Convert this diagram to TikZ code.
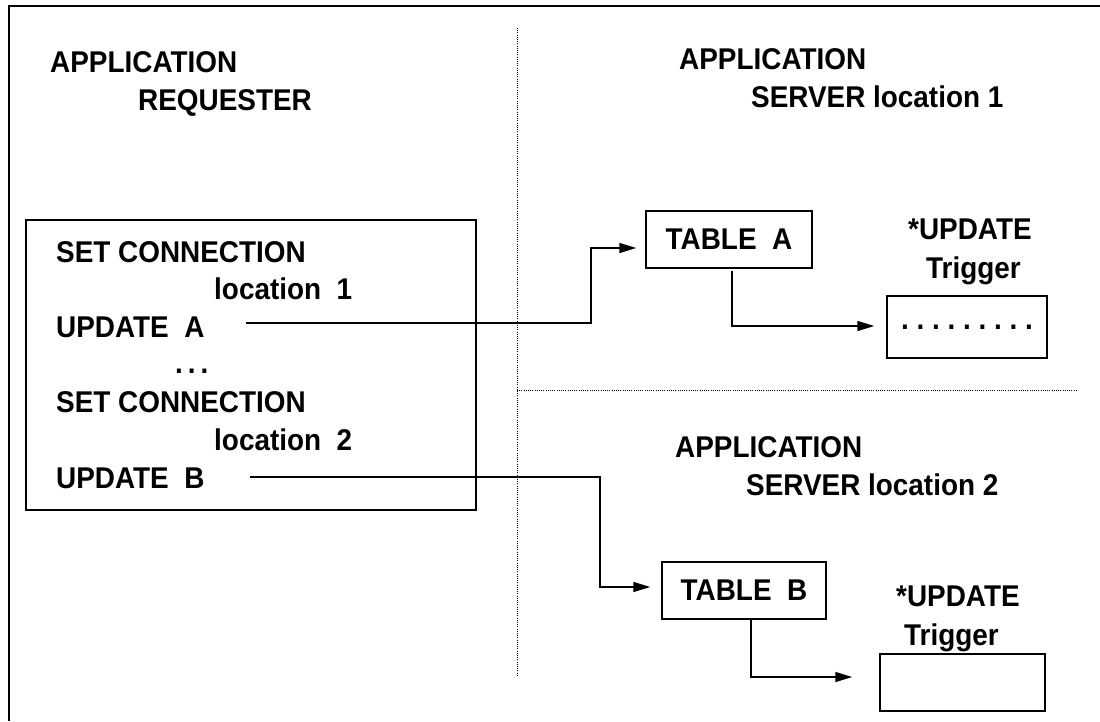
\documentclass[tikz,border=0pt]{standalone}
\usepackage{fontspec}
\setmainfont{Liberation Sans}[FakeStretch=0.93]
\usetikzlibrary{arrows.meta,calc}
\begin{document}
\begin{tikzpicture}[x=1pt,y=-1pt,
  font=\fontsize{30}{34}\selectfont\bfseries,
  lbl/.style={anchor=base west, inner sep=0pt},
  boxnode/.style={draw, line width=1.5pt, rectangle, inner sep=0pt},
  conn/.style={line width=1.5pt, -{Triangle[length=17pt,width=10pt]}},
  sepline/.style={line width=1pt, dash pattern=on 1pt off 1.2pt}]
\useasboundingbox (0,0) rectangle (1100,721);
% frame
\draw[line width=2pt] (9,721) -- (9,6) -- (1100,6);
% separators
\draw[sepline] (517,28) -- (517,676);
\draw[sepline] (517,390) -- (1078,390);
% headings
\node[lbl] (h1a) at (50,72) {APPLICATION};
\node[lbl] (h1b) at (138,110) {REQUESTER};
\node[lbl] (h2a) at (679,69) {APPLICATION};
\node[lbl] (h2b) at (751,107) {SERVER location 1};
\node[lbl] (h3a) at (675,457) {APPLICATION};
\node[lbl] (h3b) at (746,495) {SERVER location 2};
% requester box
\node[boxnode, minimum width=450pt, minimum height=290pt] (req) at (251,365) {};
\node[lbl] (l1) at (56,262) {SET CONNECTION};
\node[lbl] (l2) at (214,299) {location\ \ 1};
\node[lbl] (l3) at (56,337) {UPDATE\ \ A};
\node[lbl] (l4) at (175,373) {.\,.\,.};
\node[lbl] (l5) at (56,412) {SET CONNECTION};
\node[lbl] (l6) at (214,450) {location\ \ 2};
\node[lbl] (l7) at (56,488) {UPDATE\ \ B};
% tables
\node[boxnode, minimum width=166pt, minimum height=57pt] (ta) at (729,239.5) {TABLE\ \ A};
\node[boxnode, minimum width=164pt, minimum height=57pt] (tb) at (744,590.5) {TABLE\ \ B};
% triggers
\node[lbl] (u1) at (908,239) {*UPDATE};
\node[lbl] (g1) at (926,278) {Trigger};
\node[boxnode, minimum width=160pt, minimum height=62pt] (tra) at (967,327) {.\ .\ .\ .\ .\ .\ .\ .\ .};
\node[lbl] (u2) at (896,606) {*UPDATE};
\node[lbl] (g2) at (904,645) {Trigger};
\node[boxnode, minimum width=165pt, minimum height=57pt] (trb) at (962.5,682.5) {};
% connectors
\coordinate (sa) at (246,323);
\coordinate (ka) at (591,248);
\coordinate (ea) at (ta.west |- 0,248);
\draw[conn, shorten >=9pt] (sa) -| (ka) -- (ea);
\coordinate (sb) at (250,477);
\coordinate (kb) at (600,587);
\coordinate (eb) at (tb.west |- 0,587);
\draw[conn, shorten >=11pt] (sb) -| (kb) -- (eb);
\coordinate (da) at (732,271);
\coordinate (fa) at (tra.west |- 0,326);
\draw[conn, shorten >=12pt] (da) |- (fa);
\coordinate (db) at (751,619);
\coordinate (fb) at (trb.west |- 0,677);
\draw[conn, shorten >=27pt] (db) |- (fb);
\end{tikzpicture}
\end{document}
